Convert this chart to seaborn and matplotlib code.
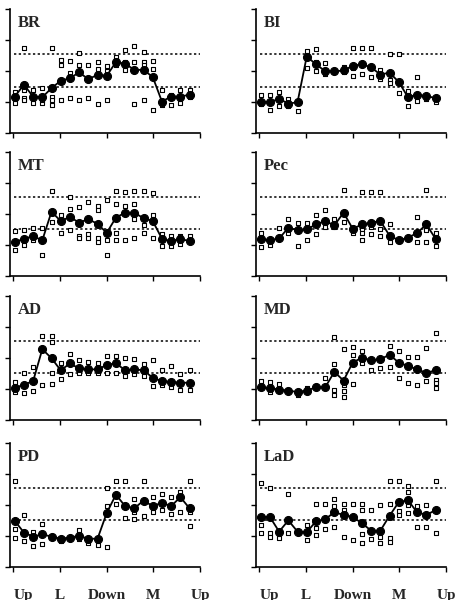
import numpy as np
import pandas as pd
import seaborn as sns
import matplotlib.pyplot as plt

sns.set_style("ticks")
plt.rcParams["font.family"] = ["Liberation Serif", "DejaVu Serif"]

muscles = ["BR", "BI", "MT", "Pec", "AD", "MD", "PD", "LaD"]
phase_labels = ["Up", "L", "Down", "M", "Up"]
band = [1.5, 2.55]

# group means, one per session (20 sessions)
br_mean = [1.18, 1.56, 1.18, 1.16, 1.45, 1.69, 1.77, 1.96, 1.74, 1.88,
           1.85, 2.29, 2.24, 2.04, 2.04, 1.81, 1.02, 1.18, 1.18, 1.24]
bi_mean = [1.02, 1.0, 1.11, 0.95, 1.0, 2.47, 2.22, 2.0, 1.99, 2.02,
           2.17, 2.22, 2.12, 1.89, 1.95, 1.65, 1.16, 1.24, 1.2, 1.13]
mt_mean = [1.09, 1.2, 1.28, 1.15, 2.07, 1.77, 1.9, 1.72, 1.83, 1.68,
           1.39, 1.88, 2.04, 2.04, 1.86, 1.77, 1.2, 1.12, 1.2, 1.12]
pec_mean = [1.2, 1.15, 1.21, 1.55, 1.48, 1.5, 1.66, 1.77, 1.63, 2.04,
            1.52, 1.66, 1.72, 1.77, 1.3, 1.15, 1.23, 1.39, 1.66, 1.2]
ad_mean = [1.03, 1.14, 1.25, 2.28, 1.99, 1.6, 1.82, 1.66, 1.63, 1.63,
           1.77, 1.83, 1.6, 1.63, 1.6, 1.36, 1.25, 1.23, 1.2, 1.2]
md_mean = [1.05, 1.03, 0.98, 0.95, 0.9, 0.95, 1.05, 1.05, 1.55, 1.27,
           1.85, 2.01, 1.92, 1.96, 2.1, 1.85, 1.74, 1.63, 1.52, 1.6]
pd_mean = [1.49, 1.11, 0.98, 1.05, 0.98, 0.91, 0.95, 1.0, 0.91, 0.91,
           1.74, 2.33, 1.96, 1.89, 2.14, 1.96, 2.07, 1.96, 2.25, 1.89]
lad_mean = [1.61, 1.61, 1.14, 1.5, 1.14, 1.12, 1.47, 1.54, 1.76, 1.68,
            1.61, 1.41, 1.17, 1.17, 1.65, 2.09, 2.15, 1.76, 1.68, 1.83]

# individual subjects, per session
br_subj = [[1.34, 1.13, 0.97], [2.74, 1.38, 1.13, 1.08], [1.38, 0.97, 1.18],
           [1.45, 0.97, 1.08], [2.74, 1.18, 1.08, 0.91, 1.48], [2.37, 2.2, 1.08],
           [2.33, 1.94, 1.12], [2.58, 2.2, 1.08], [2.2, 1.13, 1.77],
           [2.3, 2.06, 0.95], [2.18, 1.08, 1.99], [2.45, 2.2, 2.3],
           [2.69, 2.3, 2.04], [2.8, 2.3, 0.95], [2.6, 2.3, 2.2, 1.08],
           [2.34, 2.08, 0.75], [1.38, 0.91, 0.97], [1.24, 0.91],
           [1.38, 0.97], [1.38, 1.18]]
bi_subj = [[1.24, 0.95], [1.24, 0.76], [1.33, 0.89], [1.09, 0.89], [0.7, 1.0],
           [2.65, 2.09], [2.72, 2.0, 2.3], [2.27, 1.92], [2.0], [2.14, 1.98],
           [2.76, 1.85, 2.09], [2.76, 1.92], [2.76, 1.82], [2.03, 1.76],
           [2.54, 1.71, 1.63], [2.54, 1.3], [1.35, 0.89], [1.82, 1.05],
           [1.11], [1.02]]
mt_subj = [[1.45, 0.85], [1.48, 1.01], [1.55, 1.15], [1.55, 0.68], [2.75, 1.74],
           [1.96, 1.39], [2.55, 2.15, 1.48], [2.21, 1.3, 1.22], [2.37, 1.36, 1.22],
           [2.26, 2.13, 1.23, 1.09], [2.45, 1.17, 0.68], [2.75, 2.32, 1.39, 1.17],
           [2.7, 2.26, 1.15], [2.75, 2.32, 1.85, 1.23], [2.75, 1.63, 1.37],
           [2.67, 1.96, 1.23], [1.36, 0.98], [1.28, 0.96], [1.3, 1.04], [1.28]]
pec_subj = [[1.37, 0.93], [1.01], [1.55], [1.83, 1.39], [1.72, 0.98],
            [1.72, 1.17], [1.96, 1.34], [2.13, 1.59], [1.83, 1.59], [2.78, 1.74],
            [1.39], [2.7, 1.52, 1.39, 1.17], [2.7, 1.59, 1.34], [2.7, 1.5, 1.28],
            [1.68, 1.09], [1.12], [1.23], [1.91, 1.09], [2.78, 1.48, 1.09],
            [1.37, 0.98]]
ad_subj = [[1.23, 0.9], [1.52, 0.87], [1.71, 0.95], [2.72, 1.14],
           [2.7, 2.5, 1.52, 1.16], [1.82, 1.33], [2.14, 1.49], [1.92, 1.52],
           [1.87, 1.52], [1.83, 1.52], [2.07, 1.52], [2.07, 1.52], [1.99, 1.41],
           [1.96, 1.49], [1.79, 1.41], [1.92, 1.11], [1.6, 1.12], [1.74, 1.05],
           [1.47, 0.98], [1.6, 0.98]]
md_subj = [[1.27], [1.23, 0.9], [1.16], [0.98], [0.82], [1.03], [1.09], [1.34],
           [2.68, 1.79, 0.98, 0.82], [2.28, 1.14, 0.95, 0.73], [2.36, 2.1, 1.16],
           [2.23, 1.82], [1.6], [1.66], [2.39, 1.71], [2.23, 1.34], [2.03, 1.2],
           [2.03, 1.12], [2.32, 1.25], [2.79, 1.3, 1.2, 1.03]]
pd_subj = [[2.76, 1.22, 0.95], [1.67, 0.84], [1.13, 0.67], [1.38, 0.73], [1.0],
           [0.84], [0.95], [1.2, 0.89], [0.76], [0.7], [2.54, 1.96, 0.65],
           [2.77, 2.03], [2.77, 1.57], [2.2, 1.76, 1.54], [2.77, 1.63],
           [2.25, 1.76], [2.34, 1.82], [2.25, 1.71], [2.41, 1.78],
           [2.77, 1.78, 1.33]]
lad_subj = [[2.72, 1.36, 1.11], [2.55, 1.09, 0.96], [0.92], [2.34, 1.11], [1.14],
            [1.36, 0.87], [2.04, 1.25, 1.03], [2.04, 1.22], [2.2, 1.96, 1.3],
            [2.04, 1.85, 0.96], [2.04, 0.87], [2.04, 1.83, 1.07, 0.76],
            [1.85, 0.89], [2.01, 0.98, 0.76], [2.77, 2.04, 0.92, 0.82],
            [2.77, 1.79, 1.68], [2.61, 2.41, 2.01, 1.74], [1.96, 1.28],
            [2.01, 1.28], [2.77, 1.11]]

means = {"BR": br_mean, "BI": bi_mean, "MT": mt_mean, "Pec": pec_mean,
         "AD": ad_mean, "MD": md_mean, "PD": pd_mean, "LaD": lad_mean}
subjects = {"BR": br_subj, "BI": bi_subj, "MT": mt_subj, "Pec": pec_subj,
            "AD": ad_subj, "MD": md_subj, "PD": pd_subj, "LaD": lad_subj}

mean_df = pd.DataFrame([(m, i, v) for m in muscles for i, v in enumerate(means[m])],
                       columns=["muscle", "session", "value"])
subj_df = pd.DataFrame([(m, i, v) for m in muscles
                        for i, vals in enumerate(subjects[m]) for v in vals],
                       columns=["muscle", "session", "value"])

fig = plt.figure(figsize=(4.59, 6.0), dpi=100)
lefts = [0.022, 0.558]
bottoms = [0.778, 0.54, 0.30, 0.055]
tick_pos = np.linspace(-0.15, 20.15, 5)

for k, m in enumerate(muscles):
    row, col = divmod(k, 2)
    ax = fig.add_axes([lefts[col], bottoms[row], 0.414, 0.207])
    for b in band:
        ax.hlines(b, tick_pos[0] + 0.1, tick_pos[-1], colors="black",
                  linestyles=(0, (1.5, 1.6)), linewidth=1.1)
    sns.scatterplot(data=subj_df[subj_df.muscle == m], x="session", y="value",
                    marker="s", s=10, facecolor="white", edgecolor="black",
                    linewidth=0.8, ax=ax, zorder=3)
    sns.lineplot(data=mean_df[mean_df.muscle == m], x="session", y="value",
                 color="black", linewidth=1.3, marker="o", markersize=5.8,
                 markeredgecolor="black", ax=ax, zorder=4)
    ax.set_xlim(-0.5, 20.15)
    ax.set_ylim(0, 4)
    ax.set_yticks([0, 1, 2, 3, 4])
    ax.set_yticklabels([])
    ax.set_xticks(tick_pos)
    if row == 3:
        ax.set_xticklabels(phase_labels, fontsize=11, fontweight="bold")
        ax.get_xticklabels()[0].set_ha("left")
    else:
        ax.set_xticklabels([])
    ax.tick_params(axis="both", direction="out", length=3.5, width=1,
                   color="black", pad=12)
    ax.set_xlabel("")
    ax.set_ylabel("")
    for side in ["top", "right"]:
        ax.spines[side].set_visible(False)
    for side in ["left", "bottom"]:
        ax.spines[side].set_linewidth(1.2)
        ax.spines[side].set_color("black")
    ax.text(0.04, 0.885, m, transform=ax.transAxes, fontsize=12,
            fontweight="bold", va="center", ha="left")

fig.savefig("out.png", dpi=100)
